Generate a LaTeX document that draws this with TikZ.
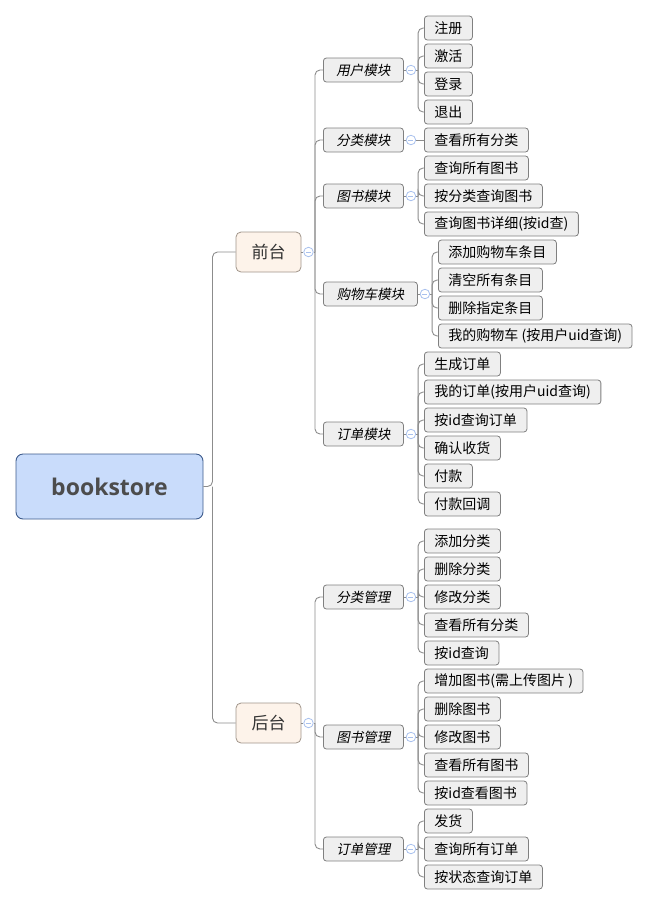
\documentclass[tikz,border=0pt]{standalone}
\usepackage{fontspec}
\setmainfont{Noto Sans CJK SC}
\newfontfamily\slantcjk[FakeSlant=0.2]{Noto Sans CJK SC}
\newfontfamily\rootfont{Open Sans}
\usepackage{tikz}
\usetikzlibrary{positioning}
\definecolor{rootfill}{HTML}{C9DCFB}
\definecolor{rootline}{HTML}{3D5B8C}
\definecolor{sidefill}{HTML}{FDF3EA}
\definecolor{sideline}{HTML}{A0958A}
\definecolor{boxfill}{HTML}{EFEFEF}
\definecolor{boxline}{HTML}{808080}
\definecolor{linkgray}{HTML}{8C8C8C}
\definecolor{foldblue}{HTML}{A9C1EE}

\begin{document}
\begin{tikzpicture}[x=1pt,y=-1pt,
	link/.style={draw=linkgray,line width=0.9pt,rounded corners=5pt},
	rootbox/.style={rectangle,draw=rootline,fill=rootfill,rounded corners=7pt,line width=0.9pt,
		minimum width=187pt,minimum height=65pt,text=black!70,font=\rootfont\bfseries\fontsize{23}{27}\selectfont},
	sidebox/.style={rectangle,draw=sideline,fill=sidefill,rounded corners=5pt,line width=0.8pt,
		minimum width=65pt,minimum height=40pt,text=black!80,font=\fontsize{17}{20}\selectfont},
	groupbox/.style={rectangle,draw=boxline,fill=boxfill,rounded corners=3pt,line width=0.8pt,anchor=west,
		minimum width=80pt,minimum height=24pt,inner ysep=0pt,font=\slantcjk\fontsize{13.5}{16}\selectfont},
	leaf/.style={rectangle,draw=boxline,fill=boxfill,rounded corners=3pt,line width=0.8pt,anchor=west,
		minimum height=24pt,inner xsep=10pt,inner ysep=0pt,font=\fontsize{14}{16}\selectfont},
	fold/.style={circle,draw=foldblue,fill=white,line width=0.8pt,minimum size=9.5pt,inner sep=0pt,
		path picture={\draw[foldblue,line width=0.8pt] ([xshift=-2.5pt]path picture bounding box.center) -- ([xshift=2.5pt]path picture bounding box.center);}},
	]
	\useasboundingbox (0,0) rectangle (646,906);

	\node[rootbox] (root) at (109.5,486.5) {bookstore};
	\node[sidebox] (front) at (268.5,252) {前台};
	\node[sidebox] (back) at (268.5,723) {后台};
	\coordinate (rootspine) at (212.5,486.5);
	\draw[link] (root.east) -- (rootspine) |- (front.west);
	\draw[link] (rootspine) |- (back.west);

	\node[fold] (frontfold) at (308.5,252) {};
	\node[fold] (backfold) at (308.5,723) {};
	\coordinate (frontspine) at (315,252);
	\coordinate (backspine) at (315,723);
	\draw[link] (front.east) -- (frontfold.west) (frontfold.east) -- (frontspine);
	\draw[link] (back.east) -- (backfold.west) (backfold.east) -- (backspine);

	\node[groupbox] (user) at (323,70) {用户模块};
	\node[groupbox] (cate) at (323,140) {分类模块};
	\node[groupbox] (book) at (323,196) {图书模块};
	\node[groupbox,minimum width=94pt] (cart) at (323,294) {购物车模块};
	\node[groupbox] (order) at (323,434) {订单模块};
	\node[groupbox] (bcate) at (323,597) {分类管理};
	\node[groupbox] (bbook) at (323,737) {图书管理};
	\node[groupbox] (border) at (323,849) {订单管理};

	\foreach \g in {user,cate,book,cart,order}
		\draw[link] (frontspine) |- (\g.west);
	\foreach \g in {bcate,bbook,border}
		\draw[link] (backspine) |- (\g.west);

	\foreach \g in {user,cate,book,cart,order,bcate,bbook,border}
		{\node[fold,right=2pt of \g] (\g fold) {};
		\coordinate[right=2pt of \g fold] (\g spine);
		\draw[link] (\g.east) -- (\g fold.west) (\g fold.east) -- (\g spine);}

	\foreach \t [count=\i] in {注册,激活,登录,退出}
		{\node[leaf] (user\i) at (424,28*\i) {\t};
		\draw[link] (userspine) |- (user\i.west);}
	\node[leaf] (cate1) at (424,140) {查看所有分类};
	\draw[link] (catespine) -- (cate1.west);
	\foreach \t [count=\i from 6] in {查询所有图书,按分类查询图书,{查询图书详细(按id查)}}
		{\node[leaf] (book\i) at (424,28*\i) {\t};
		\draw[link] (bookspine) |- (book\i.west);}
	\foreach \t [count=\i from 9] in {添加购物车条目,清空所有条目,删除指定条目,{我的购物车 (按用户uid查询)}}
		{\node[leaf] (cart\i) at (438,28*\i) {\t};
		\draw[link] (cartspine) |- (cart\i.west);}
	\foreach \t [count=\i from 13] in {生成订单,{我的订单(按用户uid查询)},按id查询订单,确认收货,付款,付款回调}
		{\node[leaf] (order\i) at (424,28*\i) {\t};
		\draw[link] (orderspine) |- (order\i.west);}

	\foreach \t [count=\i] in {添加分类,删除分类,修改分类,查看所有分类,按id查询}
		{\node[leaf] (bcate\i) at (424,513+28*\i) {\t};
		\draw[link] (bcatespine) |- (bcate\i.west);}
	\foreach \t [count=\i from 6] in {{增加图书(需上传图片 )},删除图书,修改图书,查看所有图书,按id查看图书}
		{\node[leaf] (bbook\i) at (424,513+28*\i) {\t};
		\draw[link] (bbookspine) |- (bbook\i.west);}
	\foreach \t [count=\i from 11] in {发货,查询所有订单,按状态查询订单}
		{\node[leaf] (border\i) at (424,513+28*\i) {\t};
		\draw[link] (borderspine) |- (border\i.west);}
\end{tikzpicture}
\end{document}
